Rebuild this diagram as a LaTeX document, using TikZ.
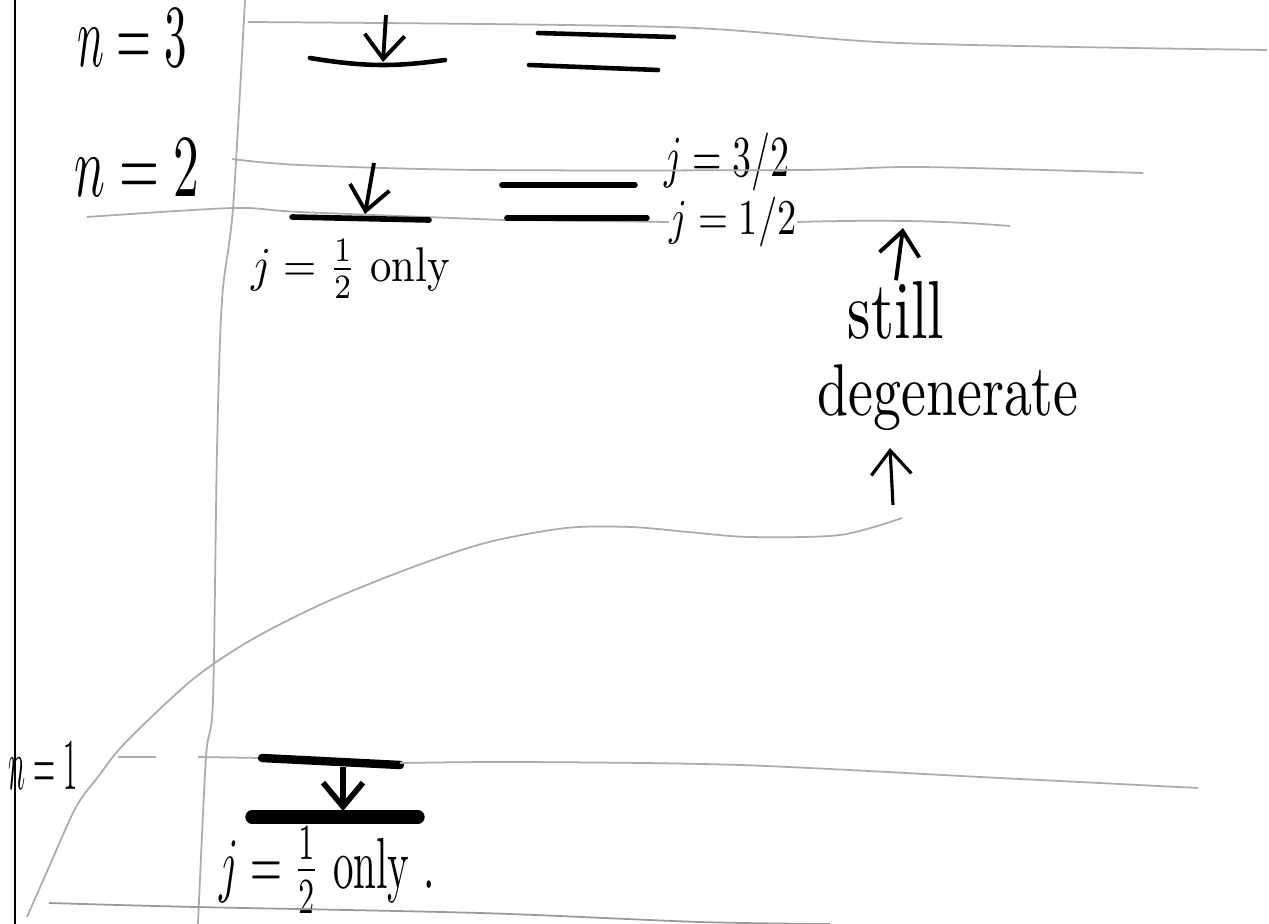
\documentclass[tikz,border=0pt]{standalone}
\usepackage{amsmath}
\usepackage{graphicx}
\usepackage{tikz}
\usetikzlibrary{arrows.meta}

\begin{document}
\begin{tikzpicture}[
       x=0.01cm, y=-0.01cm,
       level/.style={
           line width=1.3pt,
           line cap=round
       },
       guide/.style={
           gray!65,
           line width=0.5pt
       },
       jump/.style={
           -{Straight Barb[length=2.4mm,width=4mm]},
           line width=1.1pt
       },
       lbl/.style={inner sep=0pt}
   ]

   % Page
   \fill[white] (0,0) rectangle (1269,924);
   \useasboundingbox (0,0) rectangle (1269,924);
   \draw[line width=0.7pt] (15,0) -- (15,924);
   \draw[guide] plot[smooth] coordinates {(245,0) (233,208) (222,300) (217,450) (213,700) (206,757) (198,924)};


   % Labels
   \node[lbl] (n3) at (132,38) {\resizebox*{1.09cm}{0.57cm}{$n=3$}};
   \node[lbl] (n2) at (137,168) {\resizebox*{1.25cm}{0.57cm}{$n=2$}};
   \node[lbl] (n1) at (43,766) {\resizebox*{0.69cm}{0.47cm}{$n=1$}};
   \node[lbl] (j32) at (727,162) {\resizebox*{1.25cm}{0.58cm}{$j=3/2$}};
   \node[lbl] (j12) at (733,222) {\resizebox*{1.27cm}{0.50cm}{$j=1/2$}};
   \node[lbl] (only2) at (351,269) {\resizebox*{1.98cm}{0.58cm}{$j=\frac{1}{2}$ only}};
   \node[lbl] (only1) at (327,870) {\resizebox*{2.15cm}{0.86cm}{$j=\frac{1}{2}$ only~.}};
   \node[lbl] (still) at (896,310) {\resizebox*{0.96cm}{0.58cm}{still}};
   \node[lbl] (degen) at (948,398) {\resizebox*{2.61cm}{0.66cm}{degenerate}};


   % n = 3
   \draw[guide] plot[smooth] coordinates {(248,22) (670,27) (900,43) (1267,50)};
   \draw[level] (310,58) .. controls (370,68) and (400,66) .. (445,60);
   \draw[level] (538,33) -- (674,37);
   \draw[level] (529,65) -- (658,70);
   \coordinate (a3top) at (386,15);
   \coordinate (a3tip) at (383,62);
   \draw[jump] (a3top) -- (a3tip);


   % n = 2
   \draw[guide] plot[smooth] coordinates {(232,159) (300,165) (480,170) (800,170) (920,167) (1143,173)};
   \draw[guide] plot[smooth] coordinates {(87,217) (233,208) (300,212) (504,220)} -- (j12.west);
   \draw[guide] (j12.east) .. controls (900,219) and (960,222) .. (1010,226);
   \draw[level, line width=1.6pt] (292,217) -- (429,220);
   \draw[level, line width=1.6pt] (502,185) -- (635,185);
   \draw[level, line width=1.6pt] (507,218) -- (647,218);
   \coordinate (a2top) at (374,163);
   \coordinate (a2tip) at (365,214);
   \draw[jump] (a2top) -- (a2tip);


   % still degenerate
   \coordinate (mark) at (903,228);
   \draw[jump] (still.north) -- (mark);
   \coordinate (a5tail) at (893,505);
   \coordinate (a5tip) at (890,448);
   \draw[jump, line width=0.9pt] (a5tail) -- (a5tip);
   \draw[guide] plot[smooth] coordinates {(902,518) (840,535) (750,537) (688,532) (631,527) (566,528) (485,543) (405,570) (324,603) (251,640) (192,680) (125,743) (98,777) (76,807) (49,867) (27,917)};


   % n = 1
   \draw[guide] (118,757) -- (156,757);
   \draw[guide] (198,757) -- (262,758);
   \draw[line width=2.4pt, line cap=round] (262,758) -- (400,765);
   \draw[guide] plot[smooth] coordinates {(400,763) (522,762) (740,765) (1000,778) (1198,788)};
   \draw[line width=3.8pt, line cap=round] (252,817) -- (418,817);
   \coordinate (a1top) at (343,767);
   \coordinate (a1tip) at (343,811);
   \draw[jump, line width=1.6pt] (a1top) -- (a1tip);
   \draw[guide, gray!80] plot[smooth] coordinates {(49,903) (196,907) (480,913) (700,922) (830,924)};

   \end{tikzpicture}
\end{document}
